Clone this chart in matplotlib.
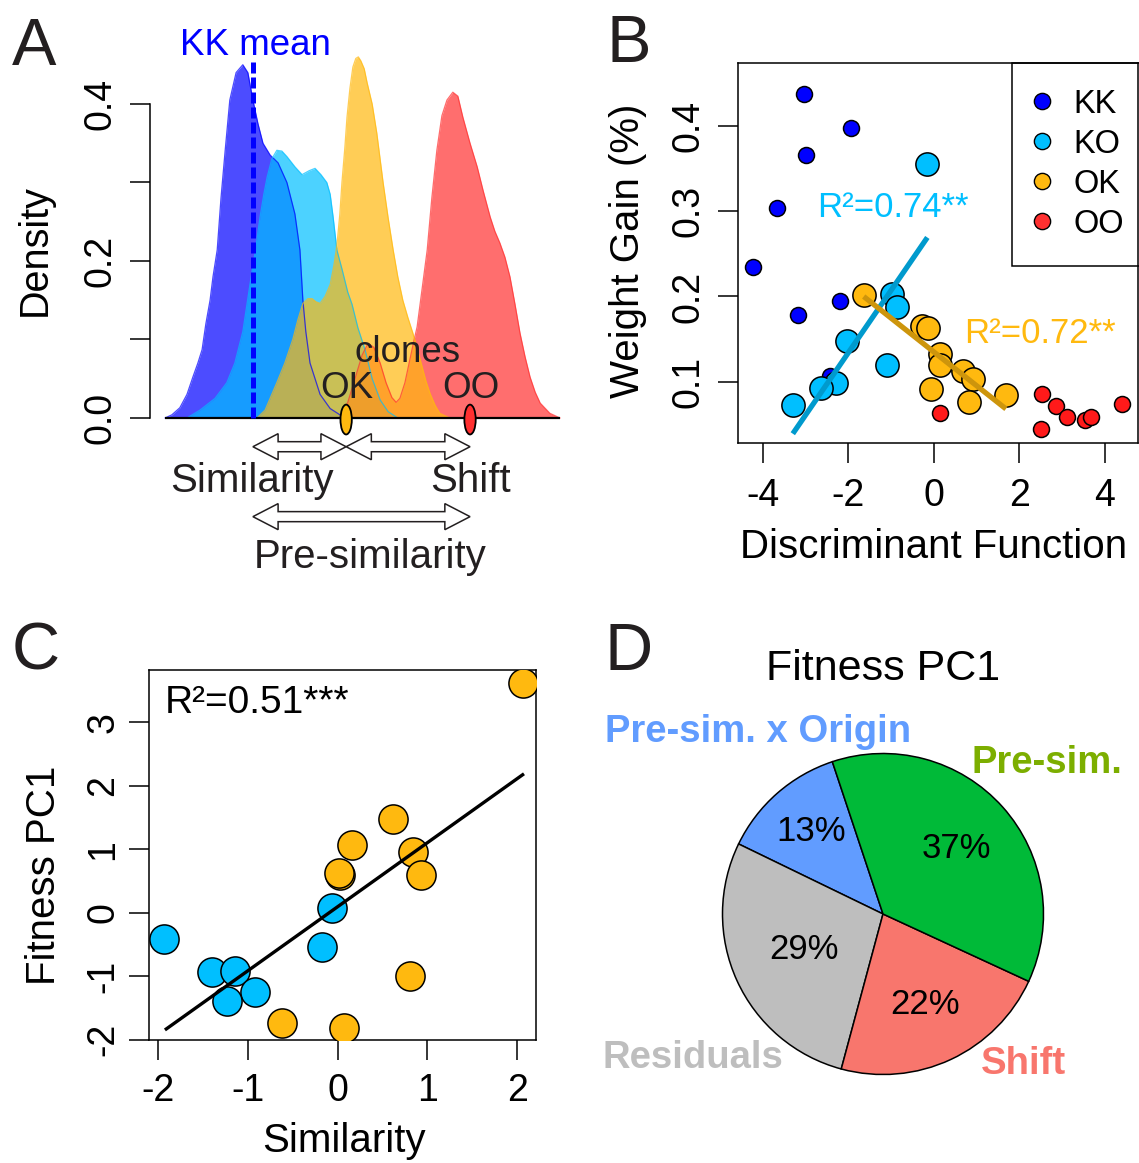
import numpy as np
import matplotlib
matplotlib.use('Agg')
import matplotlib.pyplot as plt
from matplotlib.patches import Polygon, Ellipse
from matplotlib.lines import Line2D

W, H = 1139, 1163
plt.rcParams['font.family'] = ['Liberation Sans', 'DejaVu Sans']

# ---------------- Panel A: density curves (discriminant function) ----------------
kk_x = [-4.64, -4.48, -4.29, -4.12, -3.98, -3.86, -3.76, -3.67, -3.57, -3.50, -3.40, -3.31,
        -3.21, -3.10, -2.95, -2.79, -2.67, -2.55, -2.43, -2.31, -2.14, -1.95, -1.74, -1.55,
        -1.43, -1.36, -1.29, -1.19, -0.95, -0.71, -0.36]
kk_d = [0.0, 0.004, 0.013, 0.03, 0.052, 0.07, 0.087, 0.12, 0.15, 0.18, 0.214, 0.28,
        0.341, 0.405, 0.44, 0.45, 0.44, 0.405, 0.375, 0.35, 0.335, 0.325, 0.30, 0.26,
        0.214, 0.15, 0.11, 0.07, 0.03, 0.012, 0.0]
ko_x = [-4.12, -3.81, -3.45, -3.17, -2.98, -2.79, -2.62, -2.50, -2.38, -2.29, -2.21, -2.10,
        -1.98, -1.86, -1.74, -1.55, -1.38, -1.21, -1.07, -0.93, -0.79, -0.71, -0.64, -0.55,
        -0.43, -0.29, -0.19, -0.05, 0.12, 0.29, 0.48, 0.67, 0.90]
ko_d = [0.0, 0.01, 0.025, 0.045, 0.07, 0.11, 0.17, 0.21, 0.256, 0.285, 0.307, 0.33,
        0.341, 0.34, 0.333, 0.32, 0.31, 0.315, 0.318, 0.31, 0.30, 0.285, 0.256, 0.214,
        0.19, 0.16, 0.145, 0.115, 0.087, 0.05, 0.023, 0.008, 0.0]
ok_x = [-2.45, -2.26, -1.98, -1.79, -1.60, -1.48, -1.36, -1.24, -1.14, -1.05, -0.95, -0.83,
        -0.71, -0.62, -0.55, -0.48, -0.43, -0.36, -0.31, -0.24, -0.17, -0.10, -0.04, 0.02,
        0.10, 0.17, 0.29, 0.40, 0.55, 0.67, 0.79, 0.90, 1.02, 1.14, 1.26, 1.38, 1.48, 1.57,
        1.67, 1.79, 1.90, 2.14]
ok_d = [0.0, 0.01, 0.045, 0.07, 0.10, 0.125, 0.146, 0.152, 0.152, 0.148, 0.146, 0.155,
        0.17, 0.195, 0.22, 0.26, 0.30, 0.345, 0.383, 0.42, 0.447, 0.458, 0.46, 0.455,
        0.445, 0.427, 0.40, 0.363, 0.30, 0.255, 0.214, 0.18, 0.15, 0.128, 0.108, 0.085,
        0.065, 0.047, 0.031, 0.016, 0.006, 0.0]
oo_x = [-0.48, -0.29, -0.12, 0.05, 0.19, 0.33, 0.48, 0.62, 0.76, 0.86, 0.95, 1.07, 1.19,
        1.29, 1.36, 1.48, 1.60, 1.71, 1.83, 1.95, 2.07, 2.21, 2.33, 2.45, 2.62, 2.79, 2.93,
        3.10, 3.21, 3.33, 3.45, 3.57, 3.69, 3.81, 3.93, 4.05, 4.17, 4.29, 4.52, 4.76]
oo_d = [0.0, 0.02, 0.05, 0.08, 0.095, 0.09, 0.07, 0.045, 0.026, 0.02, 0.025, 0.045, 0.075,
        0.10, 0.116, 0.165, 0.214, 0.28, 0.341, 0.385, 0.405, 0.415, 0.41, 0.383, 0.35,
        0.32, 0.29, 0.256, 0.238, 0.223, 0.205, 0.18, 0.145, 0.108, 0.078, 0.052, 0.033,
        0.019, 0.006, 0.0]
kk_mean = -2.55
ok_clone = -0.33
oo_clone = 2.62
dens_ticks = [0.0, 0.1, 0.2, 0.3, 0.4]
dens_ticklabels = ['0.0', '', '0.2', '', '0.4']

# ---------------- Panel B: weight gain vs discriminant function ----------------
kk_df = [-3.03, -1.93, -2.98, -3.67, -4.24, -2.19, -3.17, -2.44]
kk_wg = [0.437, 0.398, 0.366, 0.304, 0.234, 0.195, 0.178, 0.107]
ko_df = [-0.15, -0.97, -0.86, -2.04, -1.10, -2.29, -2.64, -3.30]
ko_wg = [0.355, 0.203, 0.188, 0.148, 0.120, 0.098, 0.093, 0.073]
okB_df = [-1.64, -0.28, -0.13, 0.14, 0.14, 0.69, 0.91, -0.07, 0.82, 1.69]
okB_wg = [0.202, 0.165, 0.163, 0.132, 0.120, 0.112, 0.103, 0.091, 0.076, 0.084]
oo_df = [0.14, 2.54, 2.87, 3.11, 2.50, 3.55, 3.69, 4.41]
oo_wg = [0.063, 0.086, 0.071, 0.059, 0.045, 0.055, 0.058, 0.074]
ko_fit = (0.0731, 0.2802)    # slope, intercept
ok_fit = (-0.0396, 0.135)
B_xticks = [-4, -2, 0, 2, 4]
B_yticks = [0.1, 0.2, 0.3, 0.4]
groups = ['KK', 'KO', 'OK', 'OO']

# ---------------- Panel C: fitness PC1 vs similarity ----------------
koC_sim = [-1.94, -1.40, -1.14, -0.92, -1.23, -0.18, -0.06]
koC_fit = [-0.42, -0.93, -0.91, -1.25, -1.39, -0.54, 0.07]
okC_sim = [2.06, 0.62, 0.16, 0.03, 0.01, 0.84, 0.93, 0.80, -0.62, 0.07]
okC_fit = [3.62, 1.47, 1.06, 0.60, 0.63, 0.95, 0.60, -0.99, -1.74, -1.82]
C_fit = (1.009, 0.096)
C_xticks = [-2, -1, 0, 1, 2]
C_yticks = [-2, -1, 0, 1, 2, 3]

# ---------------- Panel D: variance partition ----------------
pie_names = ['Pre-sim. x Origin', 'Residuals', 'Shift', 'Pre-sim.']
pie_shares = [12.7, 28.0, 22.3, 37.0]
pie_labels = ['13%', '29%', '22%', '37%']
pie_colors = ['#619CFF', '#BEBEBE', '#F8766D', '#00BA38']
pie_text_colors = ['#619CFF', '#BEBEBE', '#F8766D', '#7CAE00']

C_KK, C_KO, C_OK, C_OO = '#0000FF', '#00BFFF', '#FFB90F', '#FF3030'
TXT = '#231F20'

fig = plt.figure(figsize=(W / 100, H / 100), dpi=100)


def rect(l, t, r, b):
    return [l / W, 1 - b / H, (r - l) / W, (b - t) / H]


def ftext(px, py, s, **kw):
    return fig.text(px / W, 1 - py / H, s, **kw)


TICK_LEN = 14.4
TICK_W = 1.1

# ================= Panel A =================
axA = fig.add_axes(rect(150, 20, 570, 580))
axA.set_xlim(-5, 5)
axA.set_ylim(-0.2064, 0.507)
for s in ['top', 'right', 'bottom']:
    axA.spines[s].set_visible(False)
axA.spines['left'].set_bounds(0, 0.4)
axA.spines['left'].set_linewidth(TICK_W)
axA.set_xticks([])
axA.set_yticks(dens_ticks)
axA.set_yticklabels(dens_ticklabels)
axA.tick_params(axis='y', length=TICK_LEN, width=TICK_W, pad=8, labelsize=27, labelrotation=90)
for lab in axA.get_yticklabels():
    lab.set_va('center')

for xs, ds, c in [(kk_x, kk_d, C_KK), (ko_x, ko_d, C_KO), (oo_x, oo_d, C_OO), (ok_x, ok_d, C_OK)]:
    axA.fill_between(xs, ds, 0, color=c, alpha=0.7, lw=0)
    axA.plot(xs, ds, color=c, lw=0.9, alpha=0.7)

allx = kk_x + ko_x + ok_x + oo_x
axA.hlines(0, min(allx), max(allx), color='black', lw=1.6, zorder=5)
axA.vlines(kk_mean, 0, 0.455, color='#0000FF', lw=3.6, linestyles=(0, (2.2, 0.8)), zorder=6)
axA.text(kk_mean + 0.07, 0.462, 'KK mean', color='#0000FF', fontsize=26.5, ha='center', va='baseline')
axA.text(1.14, 0.083, 'clones', color=TXT, fontsize=26.5, ha='center', va='center')
axA.text(ok_clone + 0.02, 0.038, 'OK', color=TXT, fontsize=26.5, ha='center', va='center')
axA.text(oo_clone + 0.01, 0.038, 'OO', color=TXT, fontsize=26.5, ha='center', va='center')
for xc, c in [(ok_clone, C_OK), (oo_clone, C_OO)]:
    axA.add_patch(Ellipse((xc, -0.002), 0.27, 0.038, fc=c, ec='black', lw=1.3, zorder=7, clip_on=False))


def darrow(ax, x0, x1, y, hl=0.6, hh=0.0166, sh=0.0064):
    pts = [(x0, y), (x0 + hl, y + hh), (x0 + hl, y + sh), (x1 - hl, y + sh), (x1 - hl, y + hh),
           (x1, y), (x1 - hl, y - hh), (x1 - hl, y - sh), (x0 + hl, y - sh), (x0 + hl, y - hh)]
    ax.add_patch(Polygon(pts, closed=True, fc='white', ec=TXT, lw=1.1, clip_on=False, zorder=4))


darrow(axA, kk_mean, ok_clone, -0.0366)
darrow(axA, ok_clone, oo_clone, -0.0366)
darrow(axA, kk_mean, oo_clone, -0.1257)
axA.text(-2.58, -0.080, 'Similarity', color=TXT, fontsize=29, ha='center', va='center')
axA.text(2.62, -0.080, 'Shift', color=TXT, fontsize=29, ha='center', va='center')
axA.text(0.23, -0.177, 'Pre-similarity', color=TXT, fontsize=29, ha='center', va='center')
ftext(35, 250, 'Density', fontsize=28.5, rotation=90, ha='center', va='center')

# ================= Panel B =================
axB = fig.add_axes(rect(737.7, 62.7, 1137.5, 442.7))
axB.set_xlim(-4.59, 4.77)
axB.set_ylim(0.0284, 0.4743)
for s in axB.spines.values():
    s.set_linewidth(TICK_W)
axB.scatter(kk_df, kk_wg, s=132, c=C_KK, edgecolors='black', linewidths=1.1, zorder=3)
axB.scatter(ko_df, ko_wg, s=280, c=C_KO, edgecolors='black', linewidths=1.1, zorder=3)
axB.scatter(okB_df, okB_wg, s=280, c=C_OK, edgecolors='black', linewidths=1.1, zorder=3)
axB.scatter(oo_df, oo_wg, s=132, c='#FF1A1A', edgecolors='black', linewidths=1.1, zorder=3)
xk = np.array([min(ko_df), max(ko_df)])
axB.plot(xk, ko_fit[0] * xk + ko_fit[1], color='#009ACD', lw=3.8, zorder=4, solid_capstyle='butt')
xo = np.array([min(okB_df), max(okB_df)])
axB.plot(xo, ok_fit[0] * xo + ok_fit[1], color='#CD950C', lw=3.8, zorder=4, solid_capstyle='butt')
axB.text(-2.73, 0.304, 'R²=0.74**', color='#00BFFF', fontsize=25, ha='left', va='center')
axB.text(0.72, 0.156, 'R²=0.72**', color='#FFB90F', fontsize=25, ha='left', va='center')
axB.set_xticks(B_xticks)
axB.set_xticklabels([str(v) for v in B_xticks])
axB.set_yticks(B_yticks)
axB.set_yticklabels([f'{v:.1f}' for v in B_yticks])
axB.tick_params(axis='x', length=TICK_LEN, width=TICK_W, pad=11, labelsize=27)
axB.tick_params(axis='y', length=TICK_LEN, width=TICK_W, pad=8, labelsize=27, labelrotation=90)
for lab in axB.get_yticklabels():
    lab.set_va('center')
handles = [Line2D([], [], ls='none', marker='o', ms=11.7, mfc=c, mec='black', mew=1.0)
           for c in [C_KK, C_KO, C_OK, '#FF3030']]
leg = axB.legend(handles, groups, loc='upper right', bbox_to_anchor=(1.0 + 12.3 / 400, 1.0),
                 borderaxespad=0, fancybox=False, framealpha=1, edgecolor='black', fontsize=23.5,
                 handlelength=0.25, handletextpad=0.83, labelspacing=0.275, borderpad=0.8)
leg.get_frame().set_linewidth(1.1)
leg.set_zorder(2.4)
ftext(628, 251, 'Weight Gain (%)', fontsize=29, rotation=90, ha='center', va='center')
ftext(933.7, 558, 'Discriminant Function', fontsize=29, ha='center', va='baseline')

# ================= Panel C =================
axC = fig.add_axes(rect(149.4, 669.7, 536, 1040))
axC.set_xlim(-2.098, 2.209)
axC.set_ylim(-2.005, 3.83)
for s in axC.spines.values():
    s.set_linewidth(TICK_W)
axC.scatter(koC_sim, koC_fit, s=441, c=C_KO, edgecolors='black', linewidths=1.1, zorder=3)
axC.scatter(okC_sim, okC_fit, s=441, c=C_OK, edgecolors='black', linewidths=1.1, zorder=3)
allsim = np.array(koC_sim + okC_sim)
xl = np.array([allsim.min() + 0.03, allsim.max()])
axC.plot(xl, C_fit[0] * xl + C_fit[1], color='black', lw=2.4, zorder=4)
axC.text(-1.93, 3.30, 'R²=0.51***', fontsize=28, ha='left', va='center')
axC.set_xticks(C_xticks)
axC.set_xticklabels([str(v) for v in C_xticks])
axC.set_yticks(C_yticks)
axC.set_yticklabels([str(v) for v in C_yticks])
axC.tick_params(axis='x', length=TICK_LEN, width=TICK_W, pad=9.5, labelsize=27)
axC.tick_params(axis='y', length=TICK_LEN, width=TICK_W, pad=6, labelsize=27, labelrotation=90)
for lab in axC.get_yticklabels():
    lab.set_va('center')
ftext(44, 875, 'Fitness PC1', fontsize=29, rotation=90, ha='center', va='center')
ftext(344, 1151.5, 'Similarity', fontsize=29, ha='center', va='baseline')

# ================= Panel D =================
R = 160.5
cx, cy = 883, 914
axD = fig.add_axes(rect(cx - 1.1 * R, cy - 1.1 * R, cx + 1.1 * R, cy + 1.1 * R))
wedges, _ = axD.pie(pie_shares, colors=pie_colors, startangle=108.4, counterclock=True,
                    radius=1.0, wedgeprops=dict(edgecolor='black', linewidth=1.1))
axD.set_xlim(-1.1, 1.1)
axD.set_ylim(-1.1, 1.1)
axD.set_aspect('equal')
axD.axis('off')
for w, lab, r in zip(wedges, pie_labels, [0.68, 0.54, 0.62, 0.61]):
    ang = np.deg2rad((w.theta1 + w.theta2) / 2)
    axD.text(r * np.cos(ang), r * np.sin(ang), lab, fontsize=25, ha='center', va='center')
ftext(883.5, 680, 'Fitness PC1', fontsize=31, ha='center', va='baseline')
name_pos = [(758, 742), (693, 1068), (1023, 1074), (1047, 773)]
for (px, py), nm, col in zip(name_pos, pie_names, pie_text_colors):
    ftext(px, py, nm, fontsize=27.5, fontweight='bold', color=col, ha='center', va='baseline')

# Panel letters
for px, py, L in [(12, 65, 'A'), (606, 62, 'B'), (12, 669, 'C'), (605, 670, 'D')]:
    ftext(px, py, L, fontsize=48, ha='left', va='baseline', color=TXT)

fig.savefig('out.png', dpi=100)
